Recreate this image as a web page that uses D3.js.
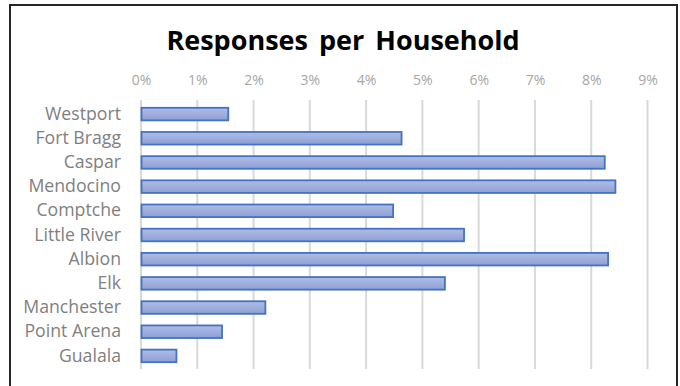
<!DOCTYPE html>
<html><head><meta charset="utf-8">
<script src="https://cdn.jsdelivr.net/npm/d3@7"></script>
<style>
html,body{margin:0;padding:0;background:#fff;}
svg{display:block;}
</style></head>
<body>
<svg id="chart" width="680" height="386"></svg>
<script>
const categories = ["Westport","Fort Bragg","Caspar","Mendocino","Comptche","Little River","Albion","Elk","Manchester","Point Arena","Gualala"];
const values = [1.55, 4.63, 8.24, 8.43, 4.48, 5.74, 8.30, 5.40, 2.21, 1.44, 0.63];
const tickValues = [0,1,2,3,4,5,6,7,8,9];
const title = "Responses per Household";

const svg = d3.select("#chart");
const font = "'Open Sans', sans-serif";

// outer frame (top, left, right)
svg.append("path")
  .attr("d","M10,400 L10,5 L677,5 L677,400")
  .attr("fill","none").attr("stroke","#262626").attr("stroke-width",2);

const x = d3.scaleLinear().domain([0,9]).range([141,647.5]);
const y = d3.scaleBand().domain(categories).range([102,368]).paddingInner(0.48).paddingOuter(0.24);

const defs = svg.append("defs");
const grad = defs.append("linearGradient").attr("id","barGrad").attr("x1",0).attr("y1",0).attr("x2",0).attr("y2",1);
grad.append("stop").attr("offset","0%").attr("stop-color","#b0bee5");
grad.append("stop").attr("offset","100%").attr("stop-color","#8c9fd5");

// gridlines
svg.append("g").selectAll("line").data(tickValues).join("line")
  .attr("x1",d=>x(d)).attr("x2",d=>x(d)).attr("y1",100).attr("y2",369)
  .attr("stroke","#d9d9d9").attr("stroke-width",2);

// top axis labels
const xAxis = d3.axisTop(x).tickValues(tickValues).tickFormat(d=>d+"%").tickSize(0).tickPadding(0);
const gx = svg.append("g").attr("transform","translate(0,85)").call(xAxis);
gx.select(".domain").remove();
gx.selectAll("text").attr("font-family",font).attr("font-size",14).attr("fill","#a6a6a6").attr("dy",0);

// bars
svg.append("g").selectAll("rect").data(categories).join("rect")
  .attr("x",x(0)+0.5)
  .attr("y",d=>y(d))
  .attr("width",(d,i)=>x(values[i])-x(0)-0.5)
  .attr("height",y.bandwidth())
  .attr("fill","url(#barGrad)")
  .attr("stroke","#4472c4").attr("stroke-width",1.8);

// category labels
const yAxis = d3.axisLeft(y).tickSize(0).tickPadding(0);
const gy = svg.append("g").attr("transform","translate(121,0)").call(yAxis);
gy.select(".domain").remove();
gy.selectAll("text").attr("font-family",font).attr("font-size",17.7).attr("fill","#7f7f7f");

// title
svg.append("text").attr("x",343).attr("y",50).attr("text-anchor","middle")
  .attr("font-family",font).attr("font-weight","bold").attr("font-size",27)
  .attr("word-spacing",4)
  .attr("fill","#000").text(title);
</script>
</body></html>
